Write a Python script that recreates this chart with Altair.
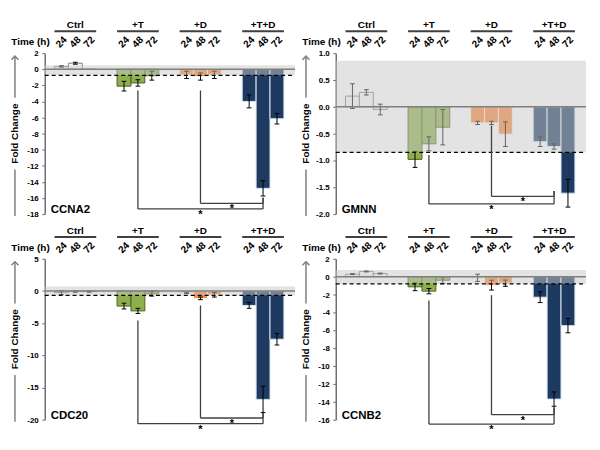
import altair as alt
import pandas as pd

groups = ["Ctrl", "+T", "+D", "+T+D"]
times = ["24", "48", "72"]
genes = ["CCNA2", "GMNN", "CDC20", "CCNB2"]

# fold change per bar (group-major order: Ctrl 24/48/72, +T ..., +D ..., +T+D ...)
ccna2_values = [0.35, 0.75, 0.02, -2.1, -1.7, -0.8, -0.7, -0.9, -0.7, -4.0, -14.8, -6.15]
ccna2_errors = [0.08, 0.12, 0.0, 0.6, 0.4, 0.55, 0.45, 0.45, 0.45, 0.8, 0.95, 0.65]
gmnn_values = [0.2, 0.27, -0.05, -0.98, -0.69, -0.38, -0.3, -0.3, -0.51, -0.65, -0.74, -1.61]
gmnn_errors = [0.23, 0.05, 0.1, 0.15, 0.13, 0.33, 0.03, 0.03, 0.23, 0.09, 0.05, 0.26]
cdc20_values = [-0.25, -0.1, -0.1, -2.35, -3.1, -0.45, -0.3, -1.15, -0.6, -2.25, -16.85, -7.5]
cdc20_errors = [0.3, 0.1, 0.1, 0.45, 0.4, 0.35, 0.1, 0.2, 0.35, 0.45, 2.05, 0.9]
ccnb2_values = [0.28, 0.58, 0.35, -1.14, -1.62, -0.4, -0.13, -0.95, -0.73, -2.3, -13.7, -5.48]
ccnb2_errors = [0.05, 0.05, 0.05, 0.43, 0.3, 0.38, 0.4, 0.55, 0.35, 0.6, 0.8, 0.8]

# threshold band [upper, lower]
ccna2_band = [0.5, -0.75]
gmnn_band = [0.86, -0.85]
cdc20_band = [0.7, -0.7]
ccnb2_band = [0.73, -0.8]

# significance brackets [start below source bar, bracket level, end below target bar]
# source +T 48 / +D 48 -> target +T+D 48
ccna2_br_t = [-2.64, -17.36, -15.96]
ccna2_br_d = [-2.64, -16.66, -15.96]
gmnn_br_t = [-0.9, -1.81, -1.57]
gmnn_br_d = [-0.35, -1.67, -1.57]
cdc20_br_t = [-4.58, -20.62, -18.96]
cdc20_br_d = [-2.25, -19.74, -18.96]
ccnb2_br_t = [-2.67, -16.49, -14.62]
ccnb2_br_d = [-2.07, -15.44, -14.62]

# y axes: tick values and their labels
ccna2_ticks = [2, 0, -2, -4, -6, -8, -10, -12, -14, -16, -18]
gmnn_ticks = [1.0, 0.5, 0.0, -0.5, -1.0, -1.5, -2.0]
cdc20_ticks = [5, 0, -5, -10, -15, -20]
ccnb2_ticks = [2, 0, -2, -4, -6, -8, -10, -12, -14, -16]
ccna2_labels = ["2", "0", "-2", "-4", "-6", "-8", "-10", "-12", "-14", "-16", "-18"]
gmnn_labels = ["1.0", "0.5", "0.0", "-0.5", "-1.0", "-1.5", "-2.0"]
cdc20_labels = ["5", "0", "-5", "-10", "-15", "-20"]
ccnb2_labels = ["2", "0", "-2", "-4", "-6", "-8", "-10", "-12", "-14", "-16"]

# ---- styling / layout ----
W, H = 252, 162
STRIDE = 4.5
FILLS = ["#f8f8f8", "#8db04a", "#f9873a", "#1f3a60"]
STROKES = ["#7f7f7f", "#4f6228", "#f2f2f2", "#dce6f2"]
FONT = "Liberation Sans"
LINE = "#404040"


def pos(g, t):
    return g * STRIDE + t


def panel(gene, values, errors, band, br_t, br_d, ticks, labels):
    rows = []
    for gi, g in enumerate(groups):
        for ti, t in enumerate(times):
            i = gi * 3 + ti
            p = pos(gi, ti)
            rows.append(dict(group=g, time=t, pos=p, lo=p - 0.5, hi=p + 0.5,
                             clo=p - 0.17, chi=p + 0.17, val=values[i], base=0.0,
                             err=errors[i], elo=values[i] - errors[i],
                             ehi=values[i] + errors[i]))
    df = pd.DataFrame(rows)
    edf = df[df.err > 0]
    gdf = pd.DataFrame(dict(group=groups,
                            center=[pos(g, 1) for g in range(4)],
                            lo=[pos(g, 0) - 0.5 for g in range(4)],
                            hi=[pos(g, 2) + 0.5 for g in range(4)]))
    bdf = pd.DataFrame(dict(top=[band[0]], bot=[band[1]], zero=[0.0]))
    tgt = pos(3, 1)
    brdf = pd.DataFrame(dict(src=[pos(1, 1), pos(2, 1)], tgt=[tgt, tgt],
                             start=[br_t[0], br_d[0]], level=[br_t[1], br_d[1]],
                             end=[br_t[2], br_d[2]],
                             mid=[(pos(1, 1) + tgt) / 2, (pos(2, 1) + tgt) / 2],
                             star=["*", "*"]))
    tdf = pd.DataFrame(dict(tick=[float(v) for v in ticks], label=labels))
    one = pd.DataFrame(dict(a=[0]))

    lo_d = float(min(ticks))
    hi_d = float(max(ticks))
    xs = alt.Scale(domain=[-1.2, 16.8], nice=False, zero=False)
    ys = alt.Scale(domain=[lo_d, hi_d], nice=False, zero=False)
    yaxis = alt.Axis(values=[float(v) for v in ticks], labels=False, title=None, grid=False,
                     domainColor="#707070", domainWidth=1.5,
                     tickColor="#707070", tickSize=3)

    def X(f):
        return alt.X(f, scale=xs, axis=None)

    def Y(f):
        return alt.Y(f, scale=ys, axis=yaxis)

    bars = alt.Chart(df).mark_bar(strokeWidth=1).encode(
        x=X("lo:Q"), x2="hi",
        y=Y("val:Q"), y2="base",
        color=alt.Color("group:N", scale=alt.Scale(domain=groups, range=FILLS), legend=None),
        stroke=alt.Stroke("group:N", scale=alt.Scale(domain=groups, range=STROKES), legend=None),
    )
    errv = alt.Chart(edf).mark_rule(color="black", strokeWidth=1).encode(
        x=X("pos:Q"), y=Y("elo:Q"), y2="ehi")
    caplo = alt.Chart(edf).mark_rule(color="black", strokeWidth=1).encode(
        x=X("clo:Q"), x2="chi", y=Y("elo:Q"))
    caphi = alt.Chart(edf).mark_rule(color="black", strokeWidth=1).encode(
        x=X("clo:Q"), x2="chi", y=Y("ehi:Q"))
    bandl = alt.Chart(bdf).mark_rect(color="#c8c8c8", opacity=0.5).encode(
        x=alt.value(0), x2=alt.value(W), y=Y("top:Q"), y2="bot")
    zerol = alt.Chart(bdf).mark_rule(color="#7f7f7f", strokeWidth=1.5).encode(
        x=alt.value(0), x2=alt.value(W), y=Y("zero:Q"))
    dashl = alt.Chart(bdf).mark_rule(color="black", strokeWidth=1.2, strokeDash=[4, 3]).encode(
        x=alt.value(0), x2=alt.value(W), y=Y("bot:Q"))
    bv1 = alt.Chart(brdf).mark_rule(color=LINE, strokeWidth=1.3).encode(
        x=X("src:Q"), y=Y("start:Q"), y2="level")
    bh = alt.Chart(brdf).mark_rule(color=LINE, strokeWidth=1.3).encode(
        x=X("src:Q"), x2="tgt", y=Y("level:Q"))
    bv2 = alt.Chart(brdf).mark_rule(color=LINE, strokeWidth=1.3).encode(
        x=X("tgt:Q"), y=Y("level:Q"), y2="end")
    stars = alt.Chart(brdf).mark_text(font=FONT, fontSize=11, fontWeight="bold",
                                      baseline="top", dy=0).encode(
        x=X("mid:Q"), y=Y("level:Q"), text="star:N")
    ylabels = alt.Chart(tdf).mark_text(font=FONT, fontSize=8, fontWeight="bold",
                                       align="right", baseline="middle", color="black",
                                       dy=1).encode(
        x=alt.value(-6), y=Y("tick:Q"), text="label:N")
    gtext = alt.Chart(gdf).mark_text(font=FONT, fontSize=10, fontWeight="bold",
                                     baseline="middle").encode(
        x=X("center:Q"), y=alt.value(-28), text="group:N")
    gline = alt.Chart(gdf).mark_rule(color=LINE, strokeWidth=2).encode(
        x=X("lo:Q"), x2="hi", y=alt.value(-22))
    ttext = alt.Chart(df).mark_text(font=FONT, fontSize=10, fontWeight="bold", angle=315,
                                    baseline="middle", align="center").encode(
        x=X("pos:Q"), y=alt.value(-11), text="time:N")
    timeh = alt.Chart(one).mark_text(text="Time (h)", font=FONT, fontSize=10, fontWeight="bold",
                                     align="right", baseline="middle").encode(
        x=alt.value(5), y=alt.value(-11))
    gname = alt.Chart(one).mark_text(text=gene, font=FONT, fontSize=11.5, fontWeight="bold",
                                     align="left", baseline="alphabetic").encode(
        x=alt.value(6), y=alt.value(H - 1))
    ftitle = alt.Chart(one).mark_text(text="Fold Change", font=FONT, fontSize=10,
                                      fontWeight="bold", angle=270, baseline="middle",
                                      align="center").encode(
        x=alt.value(-30), y=alt.value(H / 2))
    fl1 = alt.Chart(one).mark_rule(color="#7f7f7f", strokeWidth=1.5).encode(
        x=alt.value(-30), y=alt.value(3), y2=alt.value(H / 2 - 36))
    fl2 = alt.Chart(one).mark_rule(color="#7f7f7f", strokeWidth=1.5).encode(
        x=alt.value(-30), y=alt.value(H / 2 + 36), y2=alt.value(H + 2))
    arrow = alt.Chart(one).mark_point(shape="M-1,1L0,0L1,1", size=50, filled=False,
                                      strokeWidth=1.5, color="#7f7f7f", opacity=1).encode(
        x=alt.value(-30), y=alt.value(3))

    return alt.layer(bars, errv, caplo, caphi, bandl, zerol, dashl, bv1, bh, bv2, stars,
                     gtext, gline, ttext, timeh, gname, ftitle, fl1, fl2, arrow, ylabels
                     ).properties(width=W, height=H)


p1 = panel("CCNA2", ccna2_values, ccna2_errors, ccna2_band, ccna2_br_t, ccna2_br_d, ccna2_ticks, ccna2_labels)
p2 = panel("GMNN", gmnn_values, gmnn_errors, gmnn_band, gmnn_br_t, gmnn_br_d, gmnn_ticks, gmnn_labels)
p3 = panel("CDC20", cdc20_values, cdc20_errors, cdc20_band, cdc20_br_t, cdc20_br_d, cdc20_ticks, cdc20_labels)
p4 = panel("CCNB2", ccnb2_values, ccnb2_errors, ccnb2_band, ccnb2_br_t, ccnb2_br_d, ccnb2_ticks, ccnb2_labels)

chart = alt.concat(p1, p2, p3, p4, columns=2, spacing={"row": 45, "column": 41},
                   bounds="flush").properties(
    padding={"left": 0, "top": 11, "right": 5, "bottom": 5}
).configure(font=FONT).configure_view(stroke=None)

chart.save("out.html", embed_options={"renderer": "svg", "actions": False})
